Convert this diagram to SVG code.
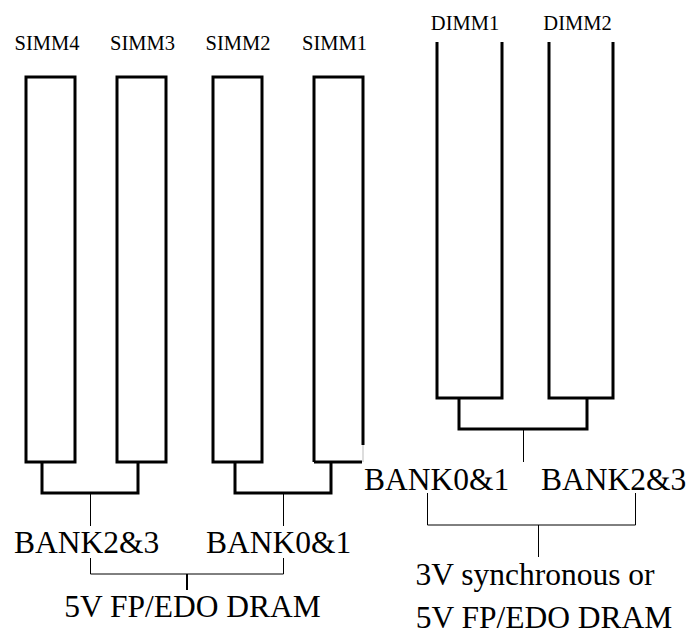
<svg xmlns="http://www.w3.org/2000/svg" width="688" height="635" viewBox="0 0 688 635">
<defs>
<style type="text/css">
.mod{fill:none;stroke:#000;stroke-width:3}
.th{fill:none;stroke:#000;stroke-width:1}
text{font-family:"Liberation Serif",serif !important}
</style>
</defs>
<rect width="688" height="635" fill="#fff"/>
<g id="simm4"><rect class="mod" x="26" y="77" width="49" height="385"/><text style="font-family:'Liberation Serif',serif;font-size:20.5px" x="47" y="50" text-anchor="middle">SIMM4</text></g>
<g id="simm3"><rect class="mod" x="117" y="77" width="49" height="385"/><text style="font-family:'Liberation Serif',serif;font-size:20.5px" x="142.5" y="50" text-anchor="middle">SIMM3</text></g>
<g id="simm2"><rect class="mod" x="213" y="77" width="49" height="385"/><text style="font-family:'Liberation Serif',serif;font-size:20.5px" x="238" y="50" text-anchor="middle">SIMM2</text></g>
<g id="simm1"><path class="mod" d="M314,462 V77 H363 V445"/><path class="mod" d="M314,462 H362"/><path d="M363,445 V462" stroke="#ddd" stroke-width="2"/><text style="font-family:'Liberation Serif',serif;font-size:20.5px" x="334.5" y="50" text-anchor="middle">SIMM1</text></g>
<g id="dimm1"><path class="mod" d="M437,42 V398 H502 V42"/><text style="font-family:'Liberation Serif',serif;font-size:20.5px" x="465" y="30" text-anchor="middle">DIMM1</text></g>
<g id="dimm2"><path class="mod" d="M549,42 V398 H613 V42"/><text style="font-family:'Liberation Serif',serif;font-size:20.5px" x="577.5" y="30" text-anchor="middle">DIMM2</text></g>
<g id="bank23-left"><text style="font-family:'Liberation Serif',serif;font-size:31.5px" x="14" y="553">BANK2&amp;3</text></g>
<g id="bank01-left"><text style="font-family:'Liberation Serif',serif;font-size:31.5px" x="206" y="553">BANK0&amp;1</text></g>
<g id="bank01-right"><text style="font-family:'Liberation Serif',serif;font-size:31.5px" x="364" y="490">BANK0&amp;1</text></g>
<g id="bank23-right"><text style="font-family:'Liberation Serif',serif;font-size:31.5px" x="541" y="490">BANK2&amp;3</text></g>
<g id="label-left"><text style="font-family:'Liberation Serif',serif;font-size:31.5px" x="192.5" y="617" text-anchor="middle">5V FP/EDO DRAM</text></g>
<g id="label-right"><text style="font-family:'Liberation Serif',serif;font-size:31.5px" x="535" y="585" text-anchor="middle">3V synchronous or</text><text style="font-family:'Liberation Serif',serif;font-size:31.5px" x="544" y="628" text-anchor="middle">5V FP/EDO DRAM</text></g>
<g id="connectors">
<path class="mod" d="M42,462 V493 H138 V462"/>
<path class="mod" d="M235,462 V493 H331 V462"/>
<path class="mod" d="M459,398 V429 H587 V398"/>
<path class="th" d="M90.5,493 V526"/>
<path class="th" d="M283.5,493 V526"/>
<path class="th" d="M523.5,429 V462"/>
<path class="th" d="M90.5,558 V574 H283.5 V558"/>
<path d="M187,574 V590" stroke="#000" stroke-width="2"/>
<path class="th" d="M427.5,493 V525 H635.5 V493"/>
<path class="th" d="M538.5,525 V557"/>
</g>
</svg>
